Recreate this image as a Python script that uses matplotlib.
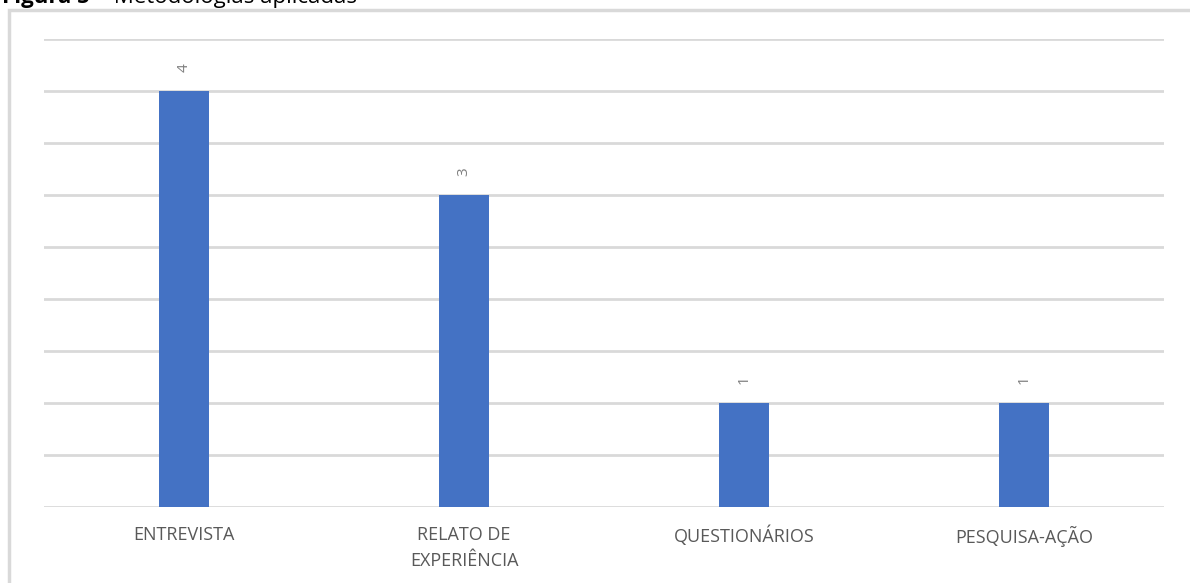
import matplotlib
matplotlib.use("Agg")
import matplotlib.pyplot as plt
from matplotlib.patches import Rectangle
import numpy as np

plt.rcParams['font.family'] = ['Open Sans', 'DejaVu Sans']

# Data
categorias = ['ENTREVISTA', 'RELATO DE\nEXPERIÊNCIA', 'QUESTIONÁRIOS', 'PESQUISA-AÇÃO']
valores = [4, 3, 1, 1]
titulo_num = 'Figura 5'
titulo_txt = '– Metodologias aplicadas'

W, H = 1190, 583
fig = plt.figure(figsize=(W / 100, H / 100), dpi=100)
ax = fig.add_axes([44 / W, 1 - 507 / H, 1120 / W, 468 / H])

x = np.arange(len(categorias))
bars = ax.bar(x, valores, width=0.18, color='#4472c4', zorder=3)

for b, v in zip(bars, valores):
    ax.annotate(str(v), (b.get_x() + b.get_width() / 2, v), xytext=(0, 14),
                textcoords='offset points', ha='center', va='bottom',
                rotation=90, fontsize=11, color='#7f7f7f')

ax.set_xlim(-0.5, len(categorias) - 0.5)
ax.set_ylim(0, 4.5)
ax.set_yticks(np.arange(0, 4.51, 0.5))
ax.yaxis.grid(True, color='#d9d9d9', linewidth=2)
ax.set_axisbelow(True)
ax.tick_params(axis='y', left=False, labelleft=False)
ax.tick_params(axis='x', bottom=False, pad=10)
ax.set_xticks(x)
ax.set_xticklabels(categorias, fontsize=13, color='#595959', linespacing=1.6, va='top')
for s in ax.spines.values():
    s.set_visible(False)

# outer chart frame
fig.patches.append(Rectangle((9 / W, -0.1), 1.2, 1 - 10 / H + 0.1, transform=fig.transFigure,
                             fill=False, edgecolor='#d9d9d9', linewidth=2.5))

# caption cut at top
fig.text(2 / W, 1 - 3 / H, titulo_num, fontsize=16, fontweight='bold', color='black',
         va='baseline', ha='left')
fig.text(97 / W, 1 - 3 / H, titulo_txt, fontsize=16, color='black', va='baseline', ha='left')

fig.savefig('out.png', dpi=100)
